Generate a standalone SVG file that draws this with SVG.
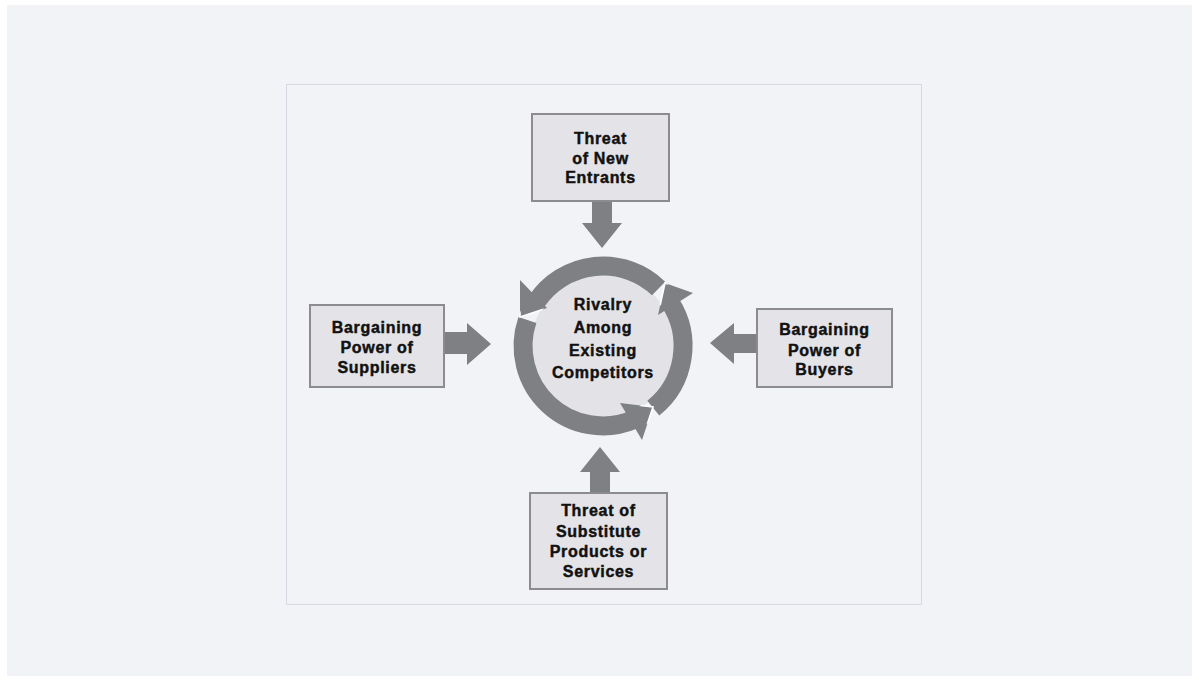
<svg xmlns="http://www.w3.org/2000/svg" width="1199" height="681" viewBox="0 0 1199 681">
  <style>
    .box { fill: #e4e4e8; stroke: #8c8c8f; stroke-width: 2; }
    .arrow { fill: #7f8083; }
    .ring { fill: none; stroke: #7f8083; stroke-width: 19; stroke-linecap: butt; }
    .head { fill: #7f8083; }
    .gap { fill: none; stroke: #ffffff; stroke-width: 1.6; stroke-linejoin: miter; }
    text { font-family: "Liberation Sans", Arial, Helvetica, sans-serif; font-weight: bold; font-size: 16px; letter-spacing: 0.7px; fill: #111111; stroke: #111111; stroke-width: 0.45px; text-anchor: middle; }
  </style>
  <defs>
    <clipPath id="annulus">
      <path clip-rule="evenodd" d="M 513.5 346 A 89.5 89.5 0 1 0 692.5 346 A 89.5 89.5 0 1 0 513.5 346 Z M 532.5 346 A 70.5 70.5 0 1 0 673.5 346 A 70.5 70.5 0 1 0 532.5 346 Z"/>
    </clipPath>
  </defs>

  <rect x="0" y="0" width="1199" height="681" fill="#ffffff"/>
  <rect x="7" y="5" width="1185" height="671" fill="#f2f3f7"/>
  <rect x="286.5" y="84.5" width="635" height="520" fill="#f2f3f7" stroke="#d4d9e2" stroke-width="1"/>

  <g id="rivalry">
    <circle cx="603" cy="346" r="72" fill="#e3e3e7"/>
    <path class="ring" d="M 658.6 288.5 A 80 80 0 0 0 536.7 301.3"/>
    <path class="ring" d="M 527.4 320.0 A 80 80 0 0 0 634.3 419.6"/>
    <path class="ring" d="M 653.3 408.2 A 80 80 0 0 0 670.1 302.4"/>
    <polygon class="head" points="520,280 547,308 520,317"/>
    <polygon class="head" points="620,403 642,440 653,407"/>
    <polygon class="head" points="658,315 693,293 665,283"/>
    <g clip-path="url(#annulus)">
      <polyline class="gap" points="520,280 520,317 547,308"/>
      <polyline class="gap" points="620,403 653,407 642,440"/>
      <polyline class="gap" points="658,315 665,283 693,293"/>
    </g>
    <text x="603" y="310">Rivalry</text>
    <text x="603" y="333">Among</text>
    <text x="603" y="355.5">Existing</text>
    <text x="603" y="378">Competitors</text>
  </g>

  <g id="new-entrants">
    <rect class="box" x="532" y="114" width="137" height="87"/>
    <text x="600.5" y="144">Threat</text>
    <text x="600.5" y="163.5">of New</text>
    <text x="600.5" y="183">Entrants</text>
  </g>

  <g id="suppliers">
    <rect class="box" x="310" y="305" width="134" height="82"/>
    <text x="377" y="333">Bargaining</text>
    <text x="377" y="353">Power of</text>
    <text x="377" y="372.5">Suppliers</text>
  </g>

  <g id="buyers">
    <rect class="box" x="757" y="309" width="135" height="78"/>
    <text x="824.5" y="335">Bargaining</text>
    <text x="824.5" y="355.5">Power of</text>
    <text x="824.5" y="375">Buyers</text>
  </g>

  <g id="substitutes">
    <rect class="box" x="530" y="493" width="137" height="96"/>
    <text x="598.5" y="516">Threat of</text>
    <text x="598.5" y="536.5">Substitute</text>
    <text x="598.5" y="557">Products or</text>
    <text x="598.5" y="577">Services</text>
  </g>

  <g id="connectors">
    <polygon class="arrow" points="592,202 612,202 612,223 622,223 602,248 582,223 592,223"/>
    <polygon class="arrow" points="445,332 467,332 467,323 491,344 467,365 467,354 445,354"/>
    <polygon class="arrow" points="756,334 734,334 734,323 710,343 734,364 734,353 756,353"/>
    <polygon class="arrow" points="590,492 610,492 610,472 620,472 600,447 580,472 590,472"/>
  </g>
</svg>
